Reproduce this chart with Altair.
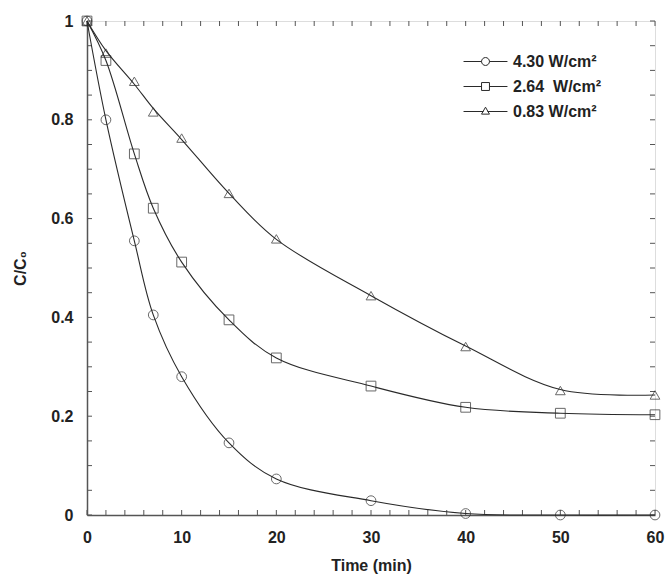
import altair as alt
import pandas as pd

# ---- data ----
times = [0, 2, 5, 7, 10, 15, 20, 30, 40, 50, 60]
# measured points (markers)
c_430 = [1.0, 0.80, 0.555, 0.405, 0.28, 0.146, 0.073, 0.029, 0.003, 0.0, 0.0]
c_264 = [1.0, 0.92, 0.731, 0.621, 0.512, 0.395, 0.318, 0.261, 0.218, 0.206, 0.203]
c_083 = [1.0, 0.935, 0.878, 0.816, 0.763, 0.651, 0.559, 0.444, 0.341, 0.252, 0.243]
# smooth fitted curves at the same times
fit_430 = [1.0, 0.80, 0.555, 0.405, 0.28, 0.146, 0.073, 0.029, 0.003, 0.0, 0.0]
fit_264 = [1.0, 0.92, 0.731, 0.621, 0.512, 0.395, 0.318, 0.261, 0.218, 0.206, 0.203]
fit_083 = [1.0, 0.94, 0.872, 0.823, 0.760, 0.651, 0.558, 0.444, 0.342, 0.254, 0.243]

series_names = ["4.30 W/cm²", "2.64\u00a0 W/cm²", "0.83 W/cm²"]
marker_shapes = ["circle", "square", "triangle-up"]

x_minor_ticks = list(range(0, 61, 2))
y_minor_ticks = [0, 0.05, 0.1, 0.15, 0.2, 0.25, 0.3, 0.35, 0.4, 0.45, 0.5,
                 0.55, 0.6, 0.65, 0.7, 0.75, 0.8, 0.85, 0.9, 0.95, 1.0]
x_labels = [0, 10, 20, 30, 40, 50, 60]
y_labels = [0, 0.2, 0.4, 0.6, 0.8, 1.0]

pts, fits = [], []
for name, vals, fv in zip(series_names, [c_430, c_264, c_083], [fit_430, fit_264, fit_083]):
    for t, v, f in zip(times, vals, fv):
        pts.append({"series": name, "t": t, "c": v})
        fits.append({"series": name, "t": t, "c": f})
df = pd.DataFrame(pts)
df_fit = pd.DataFrame(fits)

W, H = 568, 494
FONT = "Liberation Sans"
INK = "#2a2a2a"

xscale = alt.Scale(domain=[0, 60], nice=False, zero=False)
yscale = alt.Scale(domain=[0, 1], nice=False, zero=False)

xaxis = alt.Axis(values=x_labels, ticks=False, grid=False, labelFont=FONT,
                 labelFontSize=16, labelFontWeight="bold", labelColor="#222",
                 labelPadding=14, title="Time (min)", titleFont=FONT,
                 titleFontSize=16, titleFontWeight="bold", titleColor="#222",
                 titlePadding=12, domainColor="#555", domainWidth=1.5,
                 labelFlush=False)
yaxis = alt.Axis(values=y_labels, ticks=False, grid=False, format="~g",
                 labelFont=FONT, labelFontSize=16, labelFontWeight="bold",
                 labelColor="#222", labelPadding=14, title="C/C₀",
                 titleFont=FONT, titleFontSize=16, titleFontWeight="bold",
                 titleColor="#222", titlePadding=22, domainColor="#555",
                 domainWidth=1.5, labelFlush=False)

lines = alt.Chart(df_fit).mark_line(interpolate="catmull-rom", color=INK, strokeWidth=1.1).encode(
    x=alt.X("t:Q", scale=xscale, axis=xaxis),
    y=alt.Y("c:Q", scale=yscale, axis=yaxis),
    detail="series:N",
)

base = alt.Chart(df)

points = base.mark_point(filled=False, color=INK, size=95, strokeWidth=1).encode(
    x=alt.X("t:Q", scale=xscale),
    y=alt.Y("c:Q", scale=yscale),
    shape=alt.Shape("series:N", scale=alt.Scale(domain=series_names, range=marker_shapes),
                    legend=None),
)

# legend symbols: line with a marker in the middle (custom paths)
leg_circle = ("M-1.83,0H-0.33M0.33,0H1.83"
              "M0.33,0A0.33,0.33 0 1,1 -0.33,0A0.33,0.33 0 1,1 0.33,0")
leg_square = ("M-1.83,0H-0.33M0.33,0H1.83"
              "M-0.33,-0.33H0.33V0.33H-0.33Z")
leg_tri = ("M-1.83,0H-0.17M0.17,0H1.83"
           "M0,-0.36L0.33,0.22L-0.33,0.22Z")

legend_layer = base.mark_point(filled=False, color=INK, opacity=0).encode(
    x=alt.X("t:Q", scale=xscale),
    y=alt.Y("c:Q", scale=yscale),
    shape=alt.Shape(
        "series:N",
        scale=alt.Scale(domain=series_names, range=[leg_circle, leg_square, leg_tri]),
        legend=alt.Legend(
            title=None, orient="none", legendX=386, legendY=28,
            symbolSize=576, symbolStrokeColor=INK, symbolFillColor="transparent",
            symbolStrokeWidth=1, symbolOpacity=1, labelOffset=15,
            labelFont=FONT, labelFontSize=16, labelFontWeight="bold",
            labelColor="#222", rowPadding=4, padding=0,
        ),
    ),
)

# inward ticks on all four sides
xt = pd.DataFrame({"v": x_minor_ticks})
yt = pd.DataFrame({"v": y_minor_ticks})
TL = 5
tick_col = "#555"
bottom_ticks = alt.Chart(xt).mark_rule(color=tick_col, strokeWidth=1).encode(
    x=alt.X("v:Q", scale=xscale), y=alt.value(H), y2=alt.value(H - TL))
top_ticks = alt.Chart(xt).mark_rule(color=tick_col, strokeWidth=1).encode(
    x=alt.X("v:Q", scale=xscale), y=alt.value(0), y2=alt.value(TL))
left_ticks = alt.Chart(yt).mark_rule(color=tick_col, strokeWidth=1).encode(
    y=alt.Y("v:Q", scale=yscale), x=alt.value(0), x2=alt.value(TL))
right_ticks = alt.Chart(yt).mark_rule(color=tick_col, strokeWidth=1).encode(
    y=alt.Y("v:Q", scale=yscale), x=alt.value(W - TL), x2=alt.value(W))

chart = alt.layer(
    bottom_ticks, top_ticks, left_ticks, right_ticks, lines, points, legend_layer
).resolve_scale(shape="independent").properties(
    width=W, height=H,
    autosize=alt.AutoSizeParams(type="none"),
    padding={"left": 87, "top": 21, "right": 10, "bottom": 64},
).configure_view(stroke="#555", strokeWidth=1.5).configure(background="white")

chart.save("out.html", embed_options={"renderer": "svg", "actions": False})
